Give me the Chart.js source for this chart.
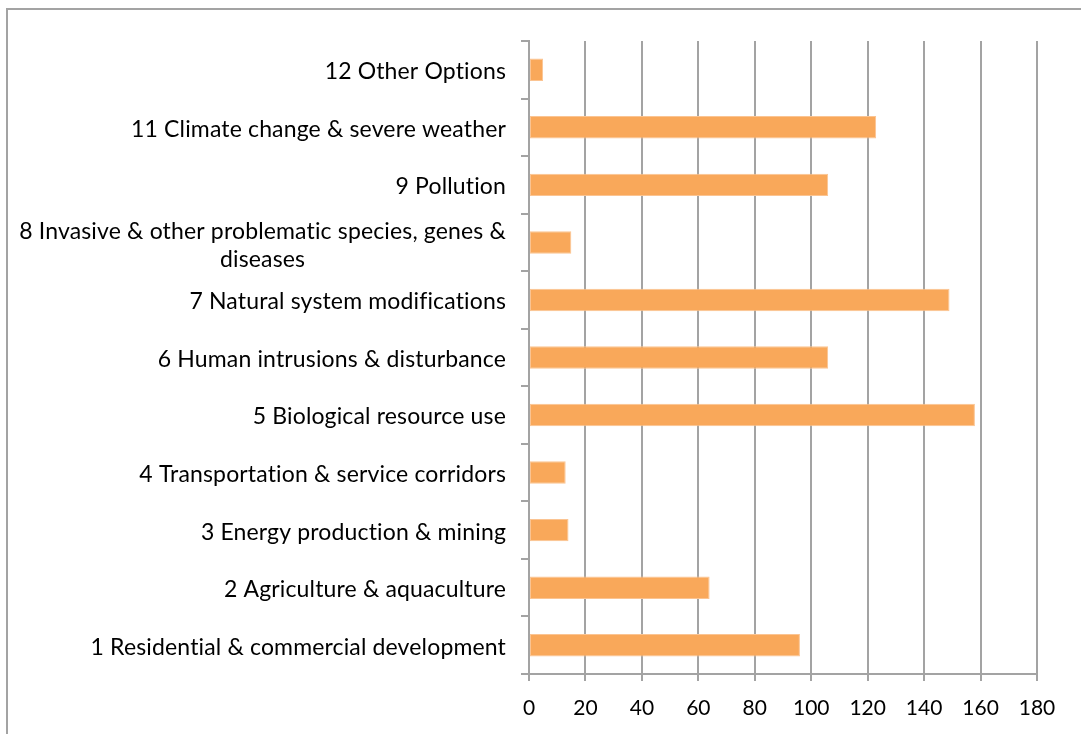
<!DOCTYPE html>
<html>
<head>
<meta charset="utf-8">
<script src="https://cdn.jsdelivr.net/npm/chart.js@4/dist/chart.umd.min.js"></script>
<style>
  html, body { margin: 0; padding: 0; background: #ffffff; overflow: hidden; }
  #frame { position: absolute; left: 6px; top: 8px; width: 1200px; height: 1000px; border: 2px solid #a3a3a3; box-sizing: border-box; }
  #wrap { position: absolute; left: 0; top: 0; width: 1081px; height: 734px; }
</style>
</head>
<body>
<div id="frame"></div>
<div id="wrap"><canvas id="c" width="1081" height="734"></canvas></div>
<script>
// Categories, listed bottom to top as in the picture
const categories = [
  "1 Residential & commercial development",
  "2 Agriculture & aquaculture",
  "3 Energy production & mining",
  "4 Transportation & service corridors",
  "5 Biological resource use",
  "6 Human intrusions & disturbance",
  "7 Natural system modifications",
  ["8 Invasive & other problematic species, genes &", "diseases"],
  "9 Pollution",
  "11 Climate change & severe weather",
  "12 Other Options"
];
const values = [96, 64, 14, 13, 158, 106, 149, 15, 106, 123, 5];
const xTicks = [0, 20, 40, 60, 80, 100, 120, 140, 160, 180];

const FONT = "Lato";
const LABEL_SIZE = 23;
const TICK_SIZE = 21;
const GRID = "#a3a3a3";

// draws the category labels: block right-aligned, lines centered in the block
const yLabelPlugin = {
  id: "yLabels",
  afterDraw(chart) {
    const ys = chart.scales.y;
    const ctx = chart.ctx;
    ctx.save();
    ctx.font = LABEL_SIZE + "px " + FONT;
    if ("letterSpacing" in ctx) ctx.letterSpacing = "0.15px";
    ctx.fillStyle = "#000000";
    ctx.textBaseline = "middle";
    ctx.textAlign = "center";
    const rightX = ys.right - 8 - 15;
    const lh = 28;
    ys.ticks.forEach((t, i) => {
      const lab = categories[t.value];
      const lines = Array.isArray(lab) ? lab : [lab];
      const maxW = Math.max(...lines.map(l => ctx.measureText(l).width));
      const cx = rightX - maxW / 2;
      const yc = ys.getPixelForTick(i);
      const y0 = yc - (lines.length - 1) * lh / 2 + (lines.length > 1 ? 3 : 2);
      lines.forEach((l, k) => ctx.fillText(l, cx, y0 + k * lh));
    });
    ctx.restore();
  }
};

new Chart(document.getElementById("c"), {
  type: "bar",
  data: {
    labels: categories,
    datasets: [{
      data: values,
      backgroundColor: "#F9A85A",
      borderColor: "#FBC492",
      borderWidth: 1,
      borderSkipped: false,
      barPercentage: 0.39,
      categoryPercentage: 1.0
    }]
  },
  options: {
    indexAxis: "y",
    responsive: false,
    animation: false,
    events: [],
    layout: { padding: { top: 41, right: 44, left: 0, bottom: 0 } },
    plugins: { legend: { display: false }, tooltip: { enabled: false }, title: { display: false } },
    scales: {
      x: {
        type: "linear",
        min: 0,
        max: 180,
        afterBuildTicks(scale) { scale.ticks = xTicks.map(v => ({ value: v })); },
        afterFit(scale) { scale.height = 60; },
        grid: { color: GRID, lineWidth: 2, drawTicks: true, tickLength: 7, tickColor: GRID },
        border: { display: true, color: GRID, width: 2 },
        ticks: { color: "#000000", font: { family: FONT, size: TICK_SIZE }, padding: 15 }
      },
      y: {
        type: "category",
        reverse: true,
        offset: true,
        afterFit(scale) { scale.width = 529; },
        grid: { offset: true, drawOnChartArea: false, drawTicks: true, tickLength: 8, color: GRID, lineWidth: 2 },
        border: { display: true, color: GRID, width: 2 },
        ticks: { display: false, font: { family: FONT, size: LABEL_SIZE } }
      }
    }
  },
  plugins: [yLabelPlugin]
});
</script>
</body>
</html>
